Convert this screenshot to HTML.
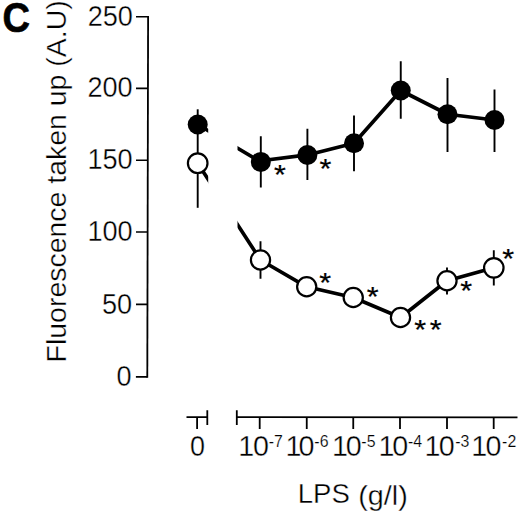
<!DOCTYPE html>
<html><head><meta charset="utf-8"><title>Figure C</title>
<style>
html,body{margin:0;padding:0;background:#fff;}
body{width:520px;height:512px;overflow:hidden;}
svg{display:block;}
text{font-family:"Liberation Sans",sans-serif;fill:#000;}
.t,.t text{stroke:#fff;stroke-width:0.35px;}
.t2 text{stroke:#fff;stroke-width:0.2px;}
</style></head>
<body>
<svg width="520" height="512" viewBox="0 0 520 512">
<rect width="520" height="512" fill="#fff"/>

<!-- panel letter -->
<text transform="translate(2.5,32.1) scale(0.905,1.02)" font-size="42" font-weight="bold" stroke="#000" stroke-width="0.7">C</text>

<!-- y axis label -->
<text class="t" transform="translate(66.3,362.4) rotate(-90) scale(1,0.94)" font-size="28.46">Fluorescence taken up (A.U)</text>

<!-- y axis -->
<g stroke="#000" fill="none">
<path stroke-width="1.8" d="M148.1 15.9L147.3 377.7"/>
<path stroke-width="1.65" d="M136 16.75H148.1M136 88.3H148M136 160.2H147.9M136 232H147.7M136 304.4H147.5M135.9 376.9H147.3"/>
</g>
<g class="t" font-size="28.7" text-anchor="end">
<text transform="translate(132.88,25.5) scale(0.945,1)">250</text>
<text transform="translate(132.63,96.8) scale(0.945,1)">200</text>
<text transform="translate(132.63,169.15) scale(0.945,1)">150</text>
<text transform="translate(132.63,241.4) scale(0.945,1)">100</text>
<text transform="translate(132.13,314.3) scale(0.945,1)">50</text>
<text transform="translate(131.58,385.8) scale(0.945,1)">0</text>
</g>

<!-- data lines -->
<g stroke="#000" stroke-width="3.65" fill="none" stroke-linejoin="round">
<path d="M197.7 124.5L260.8 161.9M260.8 160.7L307.4 154.9L354 143.3L400.75 90.5L447.5 114.25L494.5 120"/>
<path d="M197.7 163.2L260.5 260L306.7 286.8L353.25 297.5L400.5 317.5L447 280.8L493.8 267.8"/>
</g>
<!-- axis break mask -->
<rect x="208.2" y="100" width="29.3" height="335" fill="#fff"/>

<!-- error bars -->
<g stroke="#000" stroke-width="1.9">
<path d="M197.7 109.3V207.8"/>
<path d="M260.8 136.3V187.5M307.4 128.8V180M354 115.5V171.3M400.75 61.3V118.8M447.5 78V152M494.5 89.5V152"/>
<path d="M260.5 241.3V278.8M447 267.5V294.6M493.8 250.3V285.4"/>
</g>

<!-- filled circles -->
<g fill="#000">
<circle cx="197.7" cy="124.5" r="10"/>
<circle cx="260.8" cy="161.9" r="10"/>
<circle cx="307.4" cy="155" r="10"/>
<circle cx="354" cy="143.3" r="10"/>
<circle cx="400.75" cy="90.5" r="10"/>
<circle cx="447.5" cy="114.25" r="10"/>
<circle cx="494.5" cy="120" r="10"/>
</g>
<!-- open circles -->
<g fill="#fff" stroke="#000" stroke-width="2.2">
<circle cx="197.7" cy="163.2" r="9.8"/>
<circle cx="260.5" cy="260" r="9.6"/>
<circle cx="306.7" cy="286.8" r="9.6"/>
<circle cx="353.25" cy="297.5" r="9.6"/>
<circle cx="400.5" cy="317.5" r="9.6"/>
<circle cx="447" cy="280.8" r="9.6"/>
<circle cx="493.8" cy="267.8" r="9.75"/>
</g>

<!-- asterisks -->
<g font-size="30.5" text-anchor="middle" stroke="#000" stroke-width="0.25">
<text transform="translate(279.9,183.6) scale(1,0.93)">*</text>
<text transform="translate(325.45,177.6) scale(1,0.93)">*</text>
<text transform="translate(325.2,292.0) scale(1,0.93)">*</text>
<text transform="translate(372.7,306.3) scale(1,0.93)">*</text>
<text transform="translate(420.2,338.5) scale(1,0.93)">*</text>
<text transform="translate(435.6,338.5) scale(1,0.93)">*</text>
<text transform="translate(466.2,300.4) scale(1,0.93)">*</text>
<text transform="translate(508.1,268.2) scale(1,0.93)">*</text>
</g>

<!-- x axis -->
<g stroke="#000" stroke-width="1.8" fill="none">
<path d="M186.5 417.05L207.3 417.07M207.3 410.3V425M197.1 417V429"/>
<path d="M236.8 410.3V425M236.8 417.1L517.5 417.45"/>
<path d="M259.7 417.2V429.1M306.75 417.2V429.1M353.25 417.2V429.1M400 417.2V429.1M447 417.2V429.1M493.7 417.2V429.1"/>
</g>
<g class="t" font-size="28.7">
<text transform="translate(190.1,455.9) scale(0.94,1)">0</text>
<text x="238.3" y="455.9" letter-spacing="-1.20">10</text>
<text x="285.6" y="455.9" letter-spacing="-3.06">10</text>
<text x="332.05" y="455.9" letter-spacing="-2.15">10</text>
<text x="378.5" y="455.9" letter-spacing="-2.20">10</text>
<text x="424.5" y="455.9" letter-spacing="-1.60">10</text>
<text x="471.2" y="455.9" letter-spacing="-1.60">10</text>
</g>
<g class="t2" font-size="16.4">
<text transform="translate(268.8,447) scale(0.97,1)">-7</text>
<text transform="translate(314.35,447) scale(0.97,1)">-6</text>
<text transform="translate(361.35,447) scale(0.97,1)">-5</text>
<text transform="translate(407.95,447) scale(0.97,1)">-4</text>
<text transform="translate(455.2,447) scale(0.97,1)">-3</text>
<text transform="translate(502.1,447) scale(0.97,1)">-2</text>
</g>
<text class="t" transform="translate(297.8,503.4) scale(0.995,1.015)" font-size="27.7">LPS</text>
<text class="t" transform="translate(358.26,504.6) scale(1.038,1.028)" font-size="27.7">(g/l)</text>
</svg>
</body></html>
